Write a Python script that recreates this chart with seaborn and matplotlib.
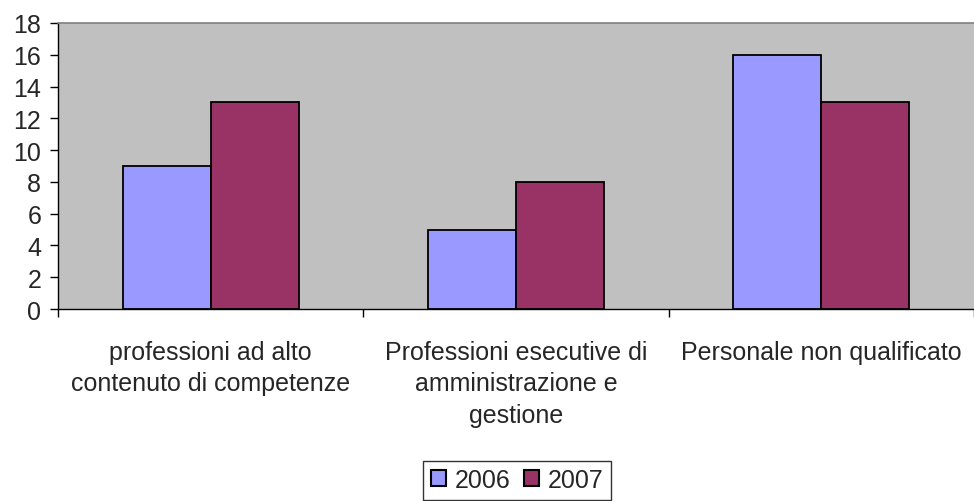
import matplotlib
matplotlib.use("Agg")
import matplotlib.pyplot as plt
import seaborn as sns
import pandas as pd
from matplotlib.patches import Patch

categories = ["professioni ad alto\ncontenuto di competenze",
              "Professioni esecutive di\namministrazione e\ngestione",
              "Personale non qualificato"]
years = ["2006", "2007"]
values_2006 = [9, 5, 16]
values_2007 = [13, 8, 13]
colors = {"2006": "#9999FF", "2007": "#993366"}

df = pd.DataFrame({
    "cat": categories * 2,
    "year": ["2006"] * 3 + ["2007"] * 3,
    "val": values_2006 + values_2007,
})

sns.set_style("white")
plt.rcParams['font.family'] = ['Liberation Sans', 'DejaVu Sans']

fig = plt.figure(figsize=(9.74, 5.02), dpi=100)
ax = fig.add_axes([58/974, 1-310/502, 1-58/974, (310-24)/502])
ax.set_facecolor("#C0C0C0")

sns.barplot(data=df, x="cat", y="val", hue="year", palette=colors,
            width=0.577, gap=0, edgecolor="black", linewidth=1.3,
            ax=ax, legend=False, saturation=1)

ax.set_xlim(-0.5, 2.5)
ax.set_ylim(0, 18)
ax.set_yticks(range(0, 19, 2))
ax.set_xlabel("")
ax.set_ylabel("")
ax.tick_params(axis="y", labelsize=18, length=6, width=1, color="black", left=True, pad=6)
ax.tick_params(axis="x", which="major", length=0, labelsize=18, pad=22)
ax.set_xticks([-0.5, 0.5, 1.5, 2.5], minor=True)
ax.tick_params(axis="x", which="minor", length=6, width=1, color="black", bottom=True)
for lbl in ax.get_xticklabels():
    lbl.set_linespacing(1.4)

for s in ["left", "bottom"]:
    ax.spines[s].set_color("black")
    ax.spines[s].set_linewidth(1)
ax.spines["top"].set_color("#808080")
ax.spines["top"].set_linewidth(1.2)
ax.spines["right"].set_visible(False)

handles = [Patch(facecolor=colors[y], edgecolor="black", linewidth=1.5, label=y) for y in years]
leg = fig.legend(handles=handles, loc="center", bbox_to_anchor=(517/974, 1-481/502),
                 ncol=2, frameon=True, fancybox=False, fontsize=18,
                 handlelength=0.62, handleheight=0.62, handletextpad=0.32,
                 columnspacing=0.55, borderpad=0.3, borderaxespad=0)
leg.get_frame().set_edgecolor("black")
leg.get_frame().set_linewidth(1)

fig.savefig("out.png", dpi=100)
